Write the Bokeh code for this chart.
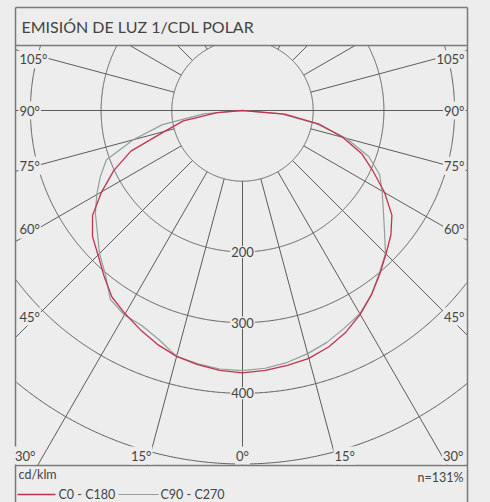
import numpy as np
from bokeh.plotting import figure
from bokeh.models import Range1d, GlobalInlineStyleSheet
from bokeh.core.properties import value
from bokeh.embed import file_html
from bokeh.resources import INLINE

# ---------------- data ----------------
title_text = "EMISIÓN DE LUZ 1/CDL POLAR"
unit_text = "cd/klm"
efficiency_text = "n=131%"
series_names = ["C0 - C180", "C90 - C270"]

gamma = [0, 5, 10, 15, 20, 25, 30, 35, 40, 45, 50, 55, 60, 65, 70, 75, 80, 85, 90]
c0 = [371, 369, 366, 363, 356, 346, 333, 318, 302, 287, 274, 258, 232, 204, 180, 147, 110, 60, 0]
c180 = [371, 369, 365, 360, 352, 342, 332, 322, 305, 289, 277, 259, 230, 201, 168, 114, 85, 36, 0]
c90 = [368, 366, 362, 356, 349, 340, 332, 318, 301, 286, 262, 243, 228, 214, 190, 152, 105, 55, 0]
c270 = [368, 367, 364, 360, 345, 336, 334, 326, 302, 286, 268, 254, 238, 222, 205, 160, 115, 55, 0]

ring_values = [100, 200, 300, 400, 500, 600]
ring_label_values = [200, 300, 400]
ring_labels = ["200", "300", "400"]
grid_angles = [0, 15, 30, 45, 60, 75, 105, 120, 135, 150]
side_label_angles = [45, 60, 75, 90, 105]
side_labels = ["45°", "60°", "75°", "90°", "105°"]
bottom_labels = ["30°", "15°", "0°", "15°", "30°"]

# ---------------- layout ----------------
BG = "#ededed"
GRID = "#5c5c5c"
FRAME = "#7a7a7a"
TXT = "#444444"
RED = "#c2334f"
GRAY = "#8fa09d"
FONT = value("Lato")

S = 0.707           # px per cd/klm
CXp, CYp = 242.0, 110.0
OFF = 0
W, H = 490, 502


def X(xp):
    return (xp - CXp) / S


def Y(yp):
    return (CYp - yp) / S


p = figure(width=W, height=H,
           x_range=Range1d(X(OFF), X(OFF + W)),
           y_range=Range1d(Y(OFF + H), Y(OFF)),
           output_backend="svg", toolbar_location=None, min_border=0)
p.axis.visible = False
p.grid.visible = False
p.outline_line_color = None
p.background_fill_color = BG
p.border_fill_color = BG
p.stylesheets = [GlobalInlineStyleSheet(css="html, body { background-color: %s; }" % BG)]

L, R = X(15), X(467)
TOPT = Y(45)
BOT = Y(465)
TOP = Y(7)


def clip(xs, ys):
    xs = np.array(xs, dtype=float)
    ys = np.array(ys, dtype=float)
    bad = (xs < L) | (xs > R) | (ys < BOT) | (ys > TOPT)
    xs[bad] = np.nan
    ys[bad] = np.nan
    return xs, ys


# rings
t = np.linspace(0, 2 * np.pi, 1441)
for rv in ring_values:
    xs, ys = clip(rv * np.sin(t), -rv * np.cos(t))
    p.line(xs, ys, line_color=GRID, line_width=1)


def ray_end(dx, dy):
    ts = []
    if dx > 1e-9:
        ts.append(R / dx)
    if dx < -1e-9:
        ts.append(L / dx)
    if dy < -1e-9:
        ts.append(BOT / dy)
    if dy > 1e-9:
        ts.append(TOPT / dy)
    return min(ts)


r0 = ring_values[0]
for a in grid_angles:
    for side in (-1, 1):
        if a == 0 and side == 1:
            continue
        dx = side * np.sin(np.radians(a))
        dy = -np.cos(np.radians(a))
        te = ray_end(dx, dy)
        if te <= r0:
            continue
        p.line([r0 * dx, te * dx], [r0 * dy, te * dy], line_color=GRID, line_width=1)
p.line([L, R], [0, 0], line_color=GRID, line_width=1)

# curves
g = np.radians(np.array(gamma, dtype=float))


def half_curve(vals_left, vals_right):
    vl = np.array(vals_left, dtype=float)
    vr = np.array(vals_right, dtype=float)
    xl = -vl * np.sin(g)
    yl = -vl * np.cos(g)
    xr = vr * np.sin(g)
    yr = -vr * np.cos(g)
    xs = np.concatenate([xl[::-1], xr[1:]])
    ys = np.concatenate([yl[::-1], yr[1:]])
    return xs, ys


gx, gy = half_curve(c270, c90)
p.line(gx, gy, line_color=GRAY, line_width=1.2, line_join="round")
rx, ry = half_curve(c180, c0)
p.line(rx, ry, line_color=RED, line_width=1.3, line_join="round")

# frame
for yy in (TOPT, BOT, TOP):
    p.line([L, R], [yy, yy], line_color=FRAME, line_width=1.5)
p.line([L, L], [TOP, Y(OFF + H)], line_color=FRAME, line_width=1.5)
p.line([R, R], [TOP, Y(OFF + H)], line_color=FRAME, line_width=1.5)

lbl_kw = dict(text_font=FONT, text_font_size="13px", text_color=TXT,
              text_baseline="middle", background_fill_color=BG, padding=1)

# ring labels on the 0 deg line
p.text(x=[0] * len(ring_label_values), y=[-v for v in ring_label_values], text=ring_labels,
       text_align="center", **lbl_kw)

# side angle labels
dxp = 206.0 / S
for a, lab in zip(side_label_angles, side_labels):
    yy = -dxp / np.tan(np.radians(a)) if a != 90 else 0.0
    if a == 105:
        yy -= 4 / S
    p.text(x=[X(18)], y=[yy], text=[lab], text_align="left", **lbl_kw)
    p.text(x=[X(465)], y=[yy], text=[lab], text_align="right", **lbl_kw)

# bottom angle labels
yb = Y(455)
bx = [X(36), X(152), 0.0, X(333), X(464)]
ba = ["right", "right", "center", "left", "right"]
for xx, al, lab in zip(bx, ba, bottom_labels):
    p.text(x=[xx], y=[yb], text=[lab], text_align=al, **lbl_kw)

# title and footer
p.text(x=[X(21)], y=[Y(26)], text=[title_text], text_font=FONT, text_font_size="16px",
       text_color=TXT, text_baseline="middle", text_align="left")
p.text(x=[X(18)], y=[Y(474)], text=[unit_text], text_font=FONT, text_font_size="12.5px",
       text_color=TXT, text_baseline="middle", text_align="left")
p.text(x=[X(463)], y=[Y(477)], text=[efficiency_text], text_font=FONT, text_font_size="12.5px",
       text_color=TXT, text_baseline="middle", text_align="right")

# legend
p.line([X(17), X(55)], [Y(494), Y(494)], line_color=RED, line_width=1.3)
p.text(x=[X(58)], y=[Y(494)], text=[series_names[0]], text_font=FONT, text_font_size="12.5px",
       text_color=TXT, text_baseline="middle", text_align="left")
p.line([X(118), X(158)], [Y(494), Y(494)], line_color=GRAY, line_width=1.2)
p.text(x=[X(160)], y=[Y(494)], text=[series_names[1]], text_font=FONT, text_font_size="12.5px",
       text_color=TXT, text_baseline="middle", text_align="left")

open("out.html", "w").write(file_html(p, INLINE))
